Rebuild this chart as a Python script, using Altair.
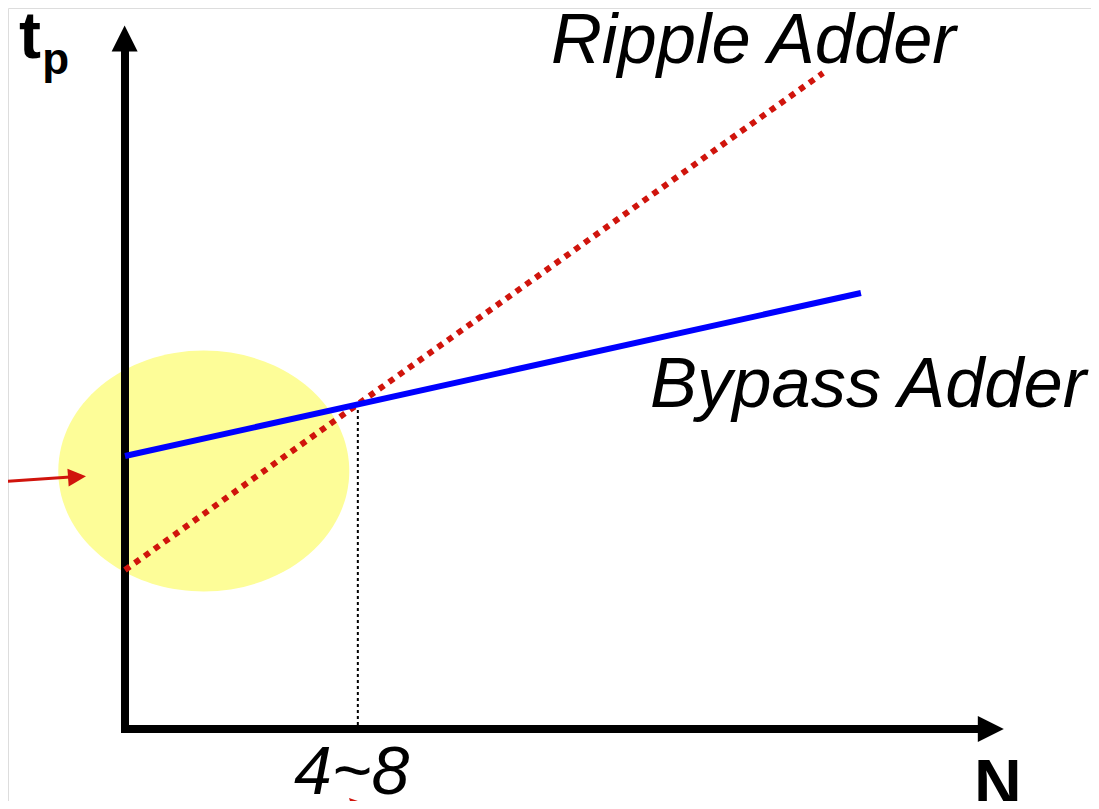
import altair as alt
import pandas as pd

# ---- data (N in "bits", tp in arbitrary delay units) ----
bypass_N = [0.0, 18.87]
bypass_tp = [13.65, 21.8]
ripple_N = [0.0, 17.9]
ripple_tp = [7.95, 32.8]
cross_N = [5.97]
cross_tp_top = [16.3]
zone_N = [2.02]
zone_tp = [12.9]
labels = ["Ripple Adder", "Bypass Adder"]
label_N = [10.92, 13.46]
label_tp = [33.3, 16.1]
tick_label = ["4~8"]
tick_N = [5.81]
tick_tp = [-3.25]

xs = alt.Scale(domain=[-3, 24.7692], nice=False, zero=False)
ys = alt.Scale(domain=[-3.6, 36.05], nice=False, zero=False)

def X(f="N"):
    return alt.X(f"{f}:Q", scale=xs, axis=None)

def Y(f="tp"):
    return alt.Y(f"{f}:Q", scale=ys, axis=None)

ELLIPSE = "M-1,0A1,0.828 0 1,0 1,0A1,0.828 0 1,0 -1,0Z"
TRI_UP = "M0,-1L1,1L-1,1Z"
TRI_RIGHT = "M1,0L-1,-1L-1,1Z"

zone = alt.Chart(pd.DataFrame({"N": zone_N, "tp": zone_tp})).mark_point(
    shape=ELLIPSE, filled=True, size=291 * 291, color="#FDFD98", opacity=1, strokeWidth=0
).encode(x=X(), y=Y())

# axes drawn as thick rules with arrowheads
yaxis = alt.Chart(pd.DataFrame({"N": [0.0], "tp": [-0.2], "tp2": [33.9]})).mark_rule(
    color="black", strokeWidth=8, strokeCap="butt"
).encode(x=X(), y=Y(), y2="tp2:Q")
xaxis = alt.Chart(pd.DataFrame({"N": [-0.1], "N2": [21.9], "tp": [0.0]})).mark_rule(
    color="black", strokeWidth=8, strokeCap="butt"
).encode(x=X(), x2="N2:Q", y=Y())
yarrow = alt.Chart(pd.DataFrame({"N": [-0.01], "tp": [34.52]})).mark_point(
    shape=TRI_UP, filled=True, size=26 * 26, color="black", opacity=1, strokeWidth=0
).encode(x=X(), y=Y())
xarrow = alt.Chart(pd.DataFrame({"N": [22.2], "tp": [0.0]})).mark_point(
    shape=TRI_RIGHT, filled=True, size=26 * 26, color="black", opacity=1, strokeWidth=0
).encode(x=X(), y=Y())

cross = alt.Chart(pd.DataFrame({"N": cross_N, "tp": [0.2], "tp2": cross_tp_top})).mark_rule(
    color="black", strokeWidth=2, strokeDash=[3, 3], strokeCap="butt"
).encode(x=X(), y=Y(), y2="tp2:Q")

ripple = alt.Chart(pd.DataFrame({"N": ripple_N, "tp": ripple_tp})).mark_line(
    color="#D0140C", strokeWidth=6, strokeDash=[6, 6], strokeCap="butt"
).encode(x=X(), y=Y())

bypass = alt.Chart(pd.DataFrame({"N": bypass_N, "tp": bypass_tp})).mark_line(
    color="#0000FF", strokeWidth=6, strokeCap="butt"
).encode(x=X(), y=Y())

# red pointer arrows
pointer = alt.Chart(pd.DataFrame({"N": [-3.3, -1.4], "tp": [12.35, 12.6]})).mark_line(
    color="#D0140C", strokeWidth=3
).encode(x=X(), y=Y())
pointer_head = alt.Chart(pd.DataFrame({"N": [-1.23], "tp": [12.6]})).mark_point(
    shape=TRI_RIGHT, filled=True, size=18 * 18, color="#D0140C", opacity=1, strokeWidth=0, angle=356
).encode(x=X(), y=Y())
pointer2_head = alt.Chart(pd.DataFrame({"N": [5.87], "tp": [-3.7]})).mark_point(
    shape=TRI_UP, filled=True, size=14 * 14, color="#D0140C", opacity=1, strokeWidth=0, angle=315
).encode(x=X(), y=Y())

FONT = "Liberation Sans"
series_labels = alt.Chart(pd.DataFrame({"N": label_N, "tp": label_tp, "t": labels})).mark_text(
    align="left", baseline="alphabetic", font=FONT, fontSize=70.5, fontStyle="italic", color="black"
).encode(x=X(), y=Y(), text="t:N")

tick = alt.Chart(pd.DataFrame({"N": tick_N, "tp": tick_tp, "t": tick_label})).mark_text(
    align="center", baseline="alphabetic", font=FONT, fontSize=68, fontStyle="italic", color="black"
).encode(x=X(), y=Y(), text="t:N")

n_title = alt.Chart(pd.DataFrame({"N": [22.38], "tp": [-3.85], "t": ["N"]})).mark_text(
    align="center", baseline="alphabetic", font=FONT, fontSize=66, fontWeight="bold", color="black"
).encode(x=X(), y=Y(), text="t:N")
t_title = alt.Chart(pd.DataFrame({"N": [-2.72], "tp": [33.55], "t": ["t"]})).mark_text(
    align="left", baseline="alphabetic", font=FONT, fontSize=66, fontWeight="bold", color="black"
).encode(x=X(), y=Y(), text="t:N")
p_title = alt.Chart(pd.DataFrame({"N": [-2.12], "tp": [32.75], "t": ["p"]})).mark_text(
    align="left", baseline="alphabetic", font=FONT, fontSize=44, fontWeight="bold", color="black"
).encode(x=X(), y=Y(), text="t:N")

chart = alt.layer(
    zone, yaxis, xaxis, yarrow, xarrow, cross, ripple, bypass,
    pointer, pointer_head, pointer2_head,
    series_labels, tick, n_title, t_title, p_title
).properties(
    width=1083, height=793, padding=0, autosize=alt.AutoSizeParams(type="none")
).configure_view(stroke="transparent", strokeWidth=0).configure(background="white")

chart.save("out.html", embed_options={"renderer": "svg", "actions": False})
